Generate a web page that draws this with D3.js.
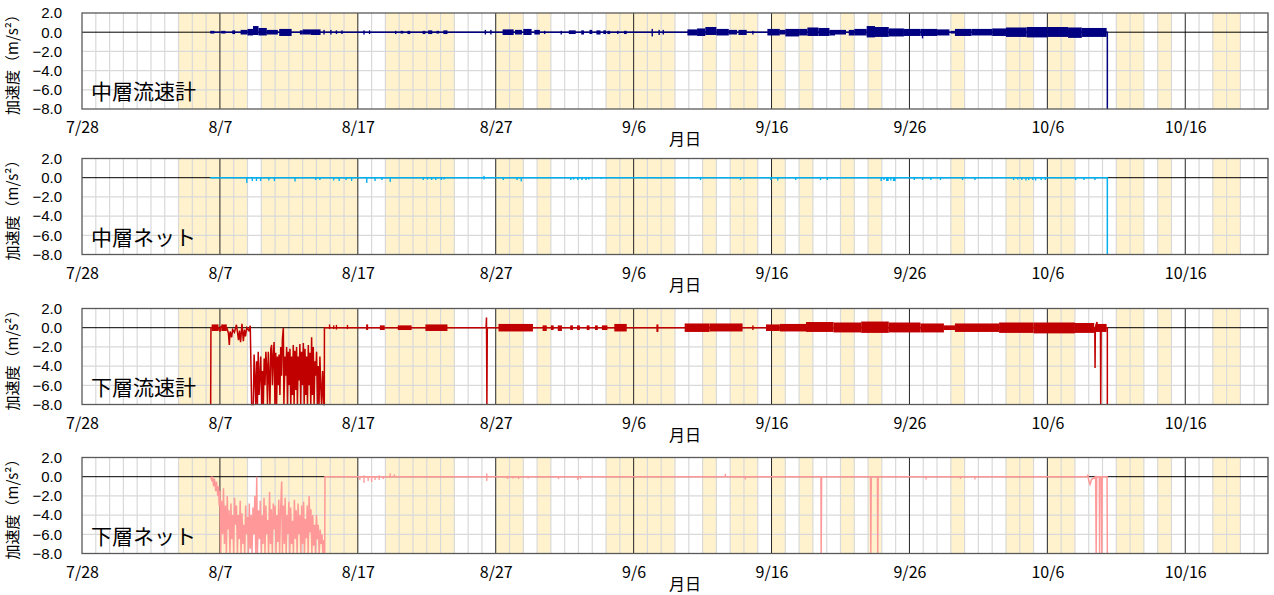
<!DOCTYPE html>
<html>
<head>
<meta charset="utf-8">
<script src="https://cdn.jsdelivr.net/npm/d3@7"></script>
<style>
  body { margin: 0; background: #fff; }
  text { fill: #000; }
</style>
</head>
<body>
<div id="chart"></div>
<script>
// x values are days counted from 7/28
const tickDays = [0, 10, 20, 30, 40, 50, 60, 70, 80];
const tickLabels = ["7/28", "8/7", "8/17", "8/27", "9/6", "9/16", "9/26", "10/6", "10/16"];
const yTicks = [2, 0, -2, -4, -6, -8];

// shaded day spans [start, end]
const shadedDays = [[7, 12], [13, 20], [22, 27], [30, 32], [33, 34], [38, 43], [45, 46], [47, 49],
  [50, 51], [52, 53], [55, 56], [57, 58], [63, 64], [67, 69], [70, 72], [75, 77], [78, 79], [82, 84]];

const panelNames = ["中層流速計", "中層ネット", "下層流速計", "下層ネット"];
const panelColors = ["#000080", "#00B0F0", "#C00000", "#FF9999"];

// ---- 中層流速計 ----
// trace: [day, value]
const midCurrentTrace = [[9.3, 0], [74.35, 0], [74.35, -8]];
// noise bursts: [startDay, endDay, low, high]
const midCurrentNoise = [
  [9.3, 9.6, -0.1, 0.1], [10.1, 10.4, -0.1, 0.1], [10.9, 11.1, -0.15, 0.15], [11.5, 12.0, -0.2, 0.2],
  [12.0, 12.4, -0.3, 0.3], [12.4, 12.8, -0.25, 0.6], [12.8, 13.4, -0.3, 0.4], [13.4, 14.2, -0.2, 0.2],
  [14.3, 15.2, -0.35, 0.3], [15.8, 16.0, -0.2, 0.15], [16.0, 16.6, -0.2, 0.25], [16.6, 17.3, -0.25, 0.25],
  [17.5, 17.6, -0.2, 0.2], [18.0, 18.1, -0.2, 0.2], [18.4, 18.5, -0.15, 0.15], [18.8, 18.9, -0.15, 0.15],
  [20.4, 20.5, -0.2, 0.15], [20.8, 20.9, -0.15, 0.15], [22.7, 22.8, -0.15, 0.1], [23.1, 23.3, -0.1, 0.1],
  [23.6, 23.8, -0.15, 0.1], [24.7, 24.9, -0.15, 0.1], [25.1, 25.4, -0.15, 0.15], [25.7, 25.9, -0.1, 0.1],
  [26.2, 26.5, -0.15, 0.15], [29.2, 29.3, -0.2, 0.2], [29.6, 29.7, -0.2, 0.2], [30.5, 31.3, -0.25, 0.25],
  [31.4, 31.9, -0.2, 0.2], [32.0, 32.6, -0.25, 0.3], [32.8, 33.2, -0.2, 0.2], [33.5, 33.6, -0.15, 0.1],
  [34.7, 34.8, -0.2, 0.1], [35.3, 35.8, -0.15, 0.15], [36.2, 36.4, -0.2, 0.15], [36.8, 37.0, -0.15, 0.2],
  [37.3, 37.6, -0.2, 0.15], [37.8, 38.0, -0.15, 0.15], [38.1, 38.3, -0.15, 0.1], [38.8, 38.9, -0.15, 0.1],
  [39.3, 39.5, -0.15, 0.1], [41.3, 41.4, -0.4, 0.3], [41.8, 41.9, -0.25, 0.2], [42.1, 42.2, -0.2, 0.2],
  [43.9, 44.6, -0.3, 0.25], [44.6, 45.2, -0.35, 0.35], [45.2, 46.0, -0.25, 0.5], [46.0, 46.9, -0.3, 0.3],
  [46.9, 47.5, -0.2, 0.2], [47.6, 48.2, -0.25, 0.2], [48.6, 48.7, -0.2, 0.1], [49.7, 50.6, -0.3, 0.3],
  [50.6, 51.0, -0.2, 0.2], [51.0, 52.0, -0.4, 0.3], [52.0, 52.6, -0.3, 0.3], [52.6, 53.4, -0.35, 0.45],
  [53.4, 54.2, -0.35, 0.4], [54.2, 54.6, -0.3, 0.2], [54.6, 55.4, -0.2, 0.2], [55.6, 56.0, -0.3, 0.2],
  [56.0, 56.9, -0.3, 0.3], [56.9, 57.5, -0.5, 0.6], [57.5, 58.5, -0.45, 0.5], [58.5, 59.6, -0.4, 0.35],
  [59.6, 60.8, -0.35, 0.3], [60.8, 62.0, -0.35, 0.3], [60.9, 61.0, -0.6, 0.2], [62.0, 62.9, -0.3, 0.25],
  [63.0, 63.3, -0.1, 0.1], [63.3, 64.5, -0.35, 0.3], [64.5, 66.0, -0.3, 0.3], [66.0, 67.0, -0.35, 0.35],
  [67.0, 68.5, -0.45, 0.45], [68.5, 70.0, -0.5, 0.5], [70.0, 71.5, -0.45, 0.5], [71.5, 72.5, -0.55, 0.45],
  [72.5, 74.3, -0.45, 0.4]
];

// ---- 中層ネット ----
const midNetTrace = [[9.3, 0], [74.35, 0], [74.35, -8]];
const midNetNoise = [
  [11.9, 12.0, -0.5, 0], [12.3, 12.4, -0.3, 0], [12.6, 12.7, -0.3, 0], [12.9, 13.0, -0.3, 0],
  [13.5, 13.6, -0.25, 0], [13.9, 14.0, -0.3, 0], [15.4, 15.5, -0.35, 0], [16.9, 17.0, -0.2, 0],
  [17.2, 17.3, -0.2, 0], [18.2, 18.3, -0.25, 0], [18.6, 18.7, -0.3, 0], [19.1, 19.2, -0.2, 0],
  [19.5, 19.6, -0.3, 0], [20.6, 20.7, -0.5, 0], [21.2, 21.3, -0.3, 0], [21.7, 21.8, -0.2, 0],
  [22.3, 22.4, -0.4, 0], [24.7, 24.8, -0.2, 0], [25.0, 25.1, -0.15, 0], [25.3, 25.4, -0.2, 0],
  [25.6, 25.7, -0.2, 0], [26.0, 26.1, -0.2, 0], [26.2, 26.3, -0.15, 0],
  [29.1, 29.2, -0.15, 0.15], [30.5, 30.6, -0.2, 0], [31.5, 31.6, -0.2, 0], [31.8, 31.9, -0.35, 0],
  [35.4, 35.5, -0.2, 0], [35.6, 35.7, -0.15, 0], [35.9, 36.0, -0.2, 0], [36.2, 36.3, -0.2, 0],
  [36.5, 36.6, -0.2, 0], [36.7, 36.8, -0.15, 0], [37.6, 37.7, -0.1, 0],
  [44.8, 44.9, -0.2, 0], [47.7, 47.8, -0.2, 0], [49.9, 50.0, -0.2, 0], [50.4, 50.5, -0.25, 0],
  [51.7, 51.8, -0.2, 0], [53.5, 53.6, -0.2, 0], [54.0, 54.1, -0.2, 0], [57.9, 58.0, -0.3, 0],
  [58.1, 58.2, -0.2, 0], [58.3, 58.5, -0.3, 0], [58.6, 58.7, -0.25, 0], [58.8, 59.0, -0.3, 0],
  [60.3, 60.4, -0.2, 0], [60.9, 61.0, -0.2, 0], [61.5, 61.6, -0.2, 0], [62.2, 62.3, -0.2, 0],
  [63.8, 63.9, -0.2, 0], [64.7, 64.8, -0.2, 0], [67.5, 67.6, -0.2, 0], [67.8, 67.9, -0.15, 0],
  [68.1, 68.2, -0.2, 0], [68.4, 68.5, -0.25, 0], [68.6, 68.7, -0.2, 0], [68.9, 69.0, -0.2, 0],
  [69.1, 69.2, -0.25, 0], [69.5, 69.6, -0.2, 0], [69.8, 69.9, -0.2, 0], [72.0, 72.1, -0.2, 0],
  [72.6, 72.7, -0.2, 0], [73.4, 73.5, -0.2, 0]
];

// ---- 下層流速計 ----
const lowCurrentTrace = [
  [9.33, -8], [9.35, 0], [9.9, 0], [10.0, -0.4], [10.05, 0.1], [10.5, 0], [10.62, -0.6], [10.68, -1.8],
  [10.74, -0.4], [10.85, -1.0], [10.92, -0.2], [11.05, -0.5], [11.2, 0.3], [11.35, -1.3], [11.42, -0.3],
  [11.5, -1.5], [11.6, 0.4], [11.7, -1.4], [11.78, -0.2], [11.85, -0.9], [11.95, 0], [12.1, -0.3],
  [12.2, 0.2], [12.3, -8], [12.42, -8], [12.48, -2.8], [12.6, -8], [12.66, -3.5], [12.72, -8],
  [12.78, -2.5], [12.84, -7], [12.9, -5], [12.96, -3], [13.03, -8], [13.09, -4.5], [13.15, -8],
  [13.21, -3.2], [13.27, -6], [13.33, -2.5], [13.39, -4], [13.45, -8], [13.51, -2.5], [13.57, -5],
  [13.63, -8], [13.69, -2.2], [13.75, -1.8], [13.81, -6], [13.87, -3], [13.93, -1.5], [13.99, -8],
  [14.05, -2.6], [14.11, -8], [14.17, -3], [14.23, -6], [14.29, -2.8], [14.35, -7], [14.41, -2],
  [14.47, -5], [14.53, -1.2], [14.6, 0], [14.64, -8], [14.72, -3], [14.78, -5], [14.84, -2], [14.9, -8],
  [14.96, -2.5], [15.02, -6], [15.08, -2.2], [15.14, -8], [15.2, -3], [15.26, -7], [15.32, -1.8],
  [15.38, -8], [15.44, -2.4], [15.5, -6.5], [15.56, -2], [15.62, -8], [15.68, -3], [15.74, -5.5],
  [15.8, -1.7], [15.86, -8], [15.92, -2.5], [15.98, -6], [16.05, -1.6], [16.11, -8], [16.17, -2.2],
  [16.23, -7], [16.29, -3], [16.35, -8], [16.41, -1.8], [16.47, -6], [16.53, -2.6], [16.59, -8],
  [16.65, -1.0], [16.71, -7], [16.77, -2], [16.83, -8], [16.89, -3.5], [16.95, -5], [17.01, -2.5],
  [17.07, -8], [17.13, -4], [17.19, -8], [17.25, -3], [17.31, -6], [17.37, -8], [17.45, -4.5],
  [17.52, -8], [17.57, -8], [17.58, 0], [29.3, 0], [29.33, 1.05], [29.36, -8], [29.39, 0],
  [73.44, 0], [73.46, -4.2], [73.48, 0], [73.6, 0.6], [73.62, 0], [73.85, 0], [73.87, -8], [73.9, 0],
  [74.35, 0], [74.35, -8]
];
const lowCurrentNoise = [
  [9.4, 9.9, -0.3, 0.3], [10.1, 10.5, -0.3, 0.3], [17.9, 18.0, -0.1, 0.3], [18.2, 18.3, -0.1, 0.2],
  [18.4, 18.5, -0.15, 0.25], [19.2, 19.3, -0.1, 0.25],
  [20.6, 20.75, -0.2, 0.3], [21.6, 21.95, -0.2, 0.2], [22.9, 23.9, -0.2, 0.2], [24.9, 26.5, -0.3, 0.3],
  [30.2, 32.7, -0.35, 0.35], [33.4, 33.7, -0.3, 0.2], [34.0, 34.2, -0.2, 0.2], [34.5, 34.8, -0.3, 0.2],
  [35.4, 35.6, -0.2, 0.2], [35.9, 36.1, -0.2, 0.2], [36.6, 36.8, -0.2, 0.2], [37.2, 37.4, -0.2, 0.2],
  [37.7, 38.1, -0.2, 0.2], [38.6, 39.5, -0.35, 0.35], [41.65, 41.8, -0.4, 0.3], [43.7, 45.5, -0.4, 0.4],
  [45.5, 47.9, -0.35, 0.4], [48.6, 48.7, -0.2, 0.2], [49.6, 50.6, -0.3, 0.3], [50.6, 52.5, -0.35, 0.35],
  [52.5, 54.5, -0.4, 0.55], [54.5, 56.5, -0.45, 0.5], [56.5, 58.5, -0.5, 0.6], [58.5, 60.8, -0.45, 0.5],
  [60.8, 62.5, -0.45, 0.4], [62.5, 63.3, -0.2, 0.2], [63.3, 66.5, -0.4, 0.4], [66.5, 69.0, -0.5, 0.5],
  [69.0, 72.0, -0.55, 0.5], [72.0, 73.4, -0.5, 0.45], [73.5, 74.3, -0.4, 0.35]
];

// ---- 下層ネット ----
const lowNetTrace = [
  [9.33, 0], [9.4, -0.3], [9.45, 0], [9.55, -1.0], [9.6, -0.2], [9.7, -1.5], [9.75, -0.5], [9.85, -2],
  [9.9, -1], [9.95, -3], [10.0, -1.5], [10.06, -8], [10.12, -2.5], [10.2, -6], [10.26, -1.2], [10.33, -7],
  [10.4, -3], [10.47, -8], [10.53, -2], [10.6, -5.5], [10.66, -3.5], [10.73, -8], [10.8, -2.8],
  [10.86, -6.5], [10.93, -4], [11.0, -8], [11.06, -2.2], [11.13, -5], [11.2, -3], [11.27, -8],
  [11.33, -4], [11.4, -6.5], [11.47, -2.5], [11.53, -8], [11.6, -3.8], [11.67, -7], [11.73, -5],
  [11.8, -8], [11.87, -3], [11.93, -6], [12.0, -4.2], [12.07, -8], [12.13, -2.8], [12.2, -7.5],
  [12.27, -4], [12.33, -8], [12.4, -3.2], [12.47, -6], [12.53, -2], [12.6, -8], [12.67, 0], [12.72, -8],
  [12.8, -3.5], [12.87, -6.5], [12.93, -2.5], [13.0, -8], [13.07, -4], [13.13, -7], [13.2, -2.2],
  [13.27, -8], [13.33, -3], [13.4, -6], [13.47, -4.5], [13.53, -8], [13.6, -1.6], [13.67, -7],
  [13.73, -3.4], [13.8, -8], [13.87, -2.8], [13.93, -5.5], [14.0, -3], [14.07, -8], [14.13, -4],
  [14.2, -6.8], [14.27, -2.4], [14.33, -8], [14.4, -3.5], [14.48, -0.5], [14.53, -8], [14.6, -3],
  [14.67, -7], [14.73, -2.2], [14.8, -8], [14.87, -4], [14.93, -6], [15.0, -2.6], [15.07, -8],
  [15.13, -3.2], [15.2, -7], [15.27, -4.6], [15.33, -8], [15.4, -2.4], [15.47, -6.5], [15.53, -3.5],
  [15.6, -8], [15.67, -2.8], [15.73, -6], [15.8, -4], [15.87, -8], [15.93, -3], [16.0, -7],
  [16.07, -2.6], [16.13, -8], [16.2, -4.4], [16.27, -6.4], [16.33, -3], [16.4, -8], [16.47, -2],
  [16.53, -5.8], [16.6, -3.4], [16.67, -8], [16.73, -4], [16.8, -7.2], [16.87, -5], [16.93, -8],
  [17.0, -4], [17.07, -6.5], [17.13, -5], [17.2, -8], [17.27, -5.5], [17.33, -7], [17.4, -6],
  [17.47, -8], [17.53, -6.6], [17.6, -8], [17.62, 0], [53.58, 0], [53.6, -8], [53.63, 0],
  [57.18, 0], [57.2, -8], [57.23, 0], [57.68, 0], [57.7, -8], [57.73, 0], [72.9, 0], [72.94, 0.2],
  [73.0, -0.4], [73.1, -0.8], [73.2, -0.3], [73.5, 0], [73.54, -8], [73.58, 0], [73.77, 0],
  [73.79, -8], [73.82, 0], [73.93, 0], [73.95, -8], [73.98, 0], [74.33, 0], [74.35, -8]
];
const lowNetNoise = [
  [20.1, 20.2, -0.3, 0], [20.4, 20.5, -0.6, 0.1], [20.7, 20.8, -0.4, 0], [20.95, 21.05, -0.5, 0],
  [21.2, 21.3, -0.3, 0], [21.5, 21.6, -0.3, 0.1], [21.8, 21.9, -0.2, 0], [22.3, 22.4, -0.1, 0.3],
  [22.6, 22.7, 0, 0.2], [29.3, 29.4, -0.4, 0.3], [30.8, 30.9, -0.2, 0.05], [31.2, 31.3, -0.15, 0],
  [31.6, 31.7, -0.2, 0], [32.3, 32.4, -0.15, 0], [34.5, 34.6, -0.2, 0], [35.9, 36.0, -0.3, 0],
  [36.1, 36.2, -0.2, 0], [46.6, 46.7, 0, 0.25], [48.05, 48.15, -0.25, 0], [61.15, 61.25, -0.25, 0],
  [63.65, 63.75, -0.2, 0], [64.7, 64.8, -0.25, 0]
];

const panels = [
  {trace: midCurrentTrace, noise: midCurrentNoise},
  {trace: midNetTrace, noise: midNetNoise},
  {trace: lowCurrentTrace, noise: lowCurrentNoise},
  {trace: lowNetTrace, noise: lowNetNoise}
];

// layout
const W = 1274, H = 595;
const panelTops = [13, 158.5, 308.5, 457.5];
const panelH = 96;
const plotLeft = 82, plotRight = 1268;

const svg = d3.select("#chart").append("svg")
    .attr("width", W)
    .attr("height", H);

const x = d3.scaleLinear().domain([0, 86]).range([plotLeft, plotRight]);
const allDays = d3.range(0, 87);
const fmt = d3.format(".1f");

panels.forEach((p, i) => {
    const top = panelTops[i];
    const bottom = top + panelH;
    const y = d3.scaleLinear().domain([-8, 2]).range([bottom, top]);
    const g = svg.append("g");
    const color = panelColors[i];

    // shaded days
    g.selectAll("rect.shade")
        .data(shadedDays)
        .enter().append("rect")
        .attr("x", d => x(d[0]))
        .attr("y", top)
        .attr("width", d => x(d[1]) - x(d[0]))
        .attr("height", panelH)
        .attr("fill", "#FFF2CC");

    // daily vertical grid
    g.selectAll("line.vgrid")
        .data(allDays.filter(d => d % 10 !== 0))
        .enter().append("line")
        .attr("x1", d => x(d)).attr("x2", d => x(d))
        .attr("y1", top).attr("y2", bottom)
        .attr("stroke", "#D9D9D9")
        .attr("stroke-width", 1.2);

    // horizontal grid
    g.selectAll("line.hgrid")
        .data([-2, -4, -6])
        .enter().append("line")
        .attr("x1", plotLeft).attr("x2", plotRight)
        .attr("y1", d => y(d)).attr("y2", d => y(d))
        .attr("stroke", "#D9D9D9")
        .attr("stroke-width", 1.2);

    // 10-day lines
    g.selectAll("line.major")
        .data(tickDays.filter(d => d > 0))
        .enter().append("line")
        .attr("x1", d => x(d)).attr("x2", d => x(d))
        .attr("y1", top).attr("y2", bottom)
        .attr("stroke", "#262626")
        .attr("stroke-width", 1);

    // zero line
    g.append("line")
        .attr("x1", plotLeft).attr("x2", plotRight)
        .attr("y1", y(0)).attr("y2", y(0))
        .attr("stroke", "#000")
        .attr("stroke-width", 1);

    // data trace
    g.append("path")
        .datum(p.trace)
        .attr("fill", "none")
        .attr("stroke", color)
        .attr("stroke-width", 1.5)
        .attr("d", d3.line().x(d => x(d[0])).y(d => y(d[1])));

    // noise bursts
    g.selectAll("rect.noise")
        .data(p.noise)
        .enter().append("rect")
        .attr("x", d => x(d[0]))
        .attr("y", d => y(d[3]) - 0.4)
        .attr("width", d => Math.max(1.2, x(d[1]) - x(d[0])))
        .attr("height", d => y(d[2]) - y(d[3]) + 0.8)
        .attr("fill", color);

    // border
    g.append("rect")
        .attr("x", plotLeft).attr("y", top)
        .attr("width", plotRight - plotLeft).attr("height", panelH)
        .attr("fill", "none")
        .attr("stroke", "#595959")
        .attr("stroke-width", 1.3);

    // y axis labels
    const yAxis = g.append("g")
        .attr("transform", `translate(${plotLeft},0)`)
        .call(d3.axisLeft(y).tickValues(yTicks).tickSize(0).tickPadding(20).tickFormat(d => fmt(d)));
    yAxis.select(".domain").remove();
    yAxis.selectAll("text")
        .style("font-family", "'Liberation Sans', Arial, sans-serif")
        .style("font-size", "15px")
        .attr("fill", "#000");

    // x axis labels
    const xAxis = g.append("g")
        .attr("transform", `translate(0,${bottom})`)
        .call(d3.axisBottom(x).tickValues(tickDays).tickSize(0).tickPadding(13)
            .tickFormat((d, k) => tickLabels[k]));
    xAxis.select(".domain").remove();
    xAxis.selectAll("text")
        .style("font-family", "'Noto Sans CJK JP', sans-serif")
        .style("font-size", "16px")
        .attr("fill", "#000");

    // x title
    g.append("text")
        .attr("x", 685)
        .attr("y", bottom + 36)
        .attr("text-anchor", "middle")
        .style("font-family", "'Noto Sans CJK JP', sans-serif")
        .style("font-size", "16px")
        .text("月日");

    // y title
    g.append("text")
        .attr("transform", `translate(18,${(top + bottom) / 2}) rotate(-90)`)
        .attr("text-anchor", "middle")
        .style("font-family", "'Noto Sans CJK JP', sans-serif")
        .style("font-size", "15px")
        .text("加速度（m/s²）");

    // panel name
    g.append("text")
        .attr("x", 91)
        .attr("y", bottom - 10)
        .style("font-family", "'Noto Sans CJK JP', sans-serif")
        .style("font-size", "21px")
        .text(panelNames[i]);
});
</script>
</body>
</html>
